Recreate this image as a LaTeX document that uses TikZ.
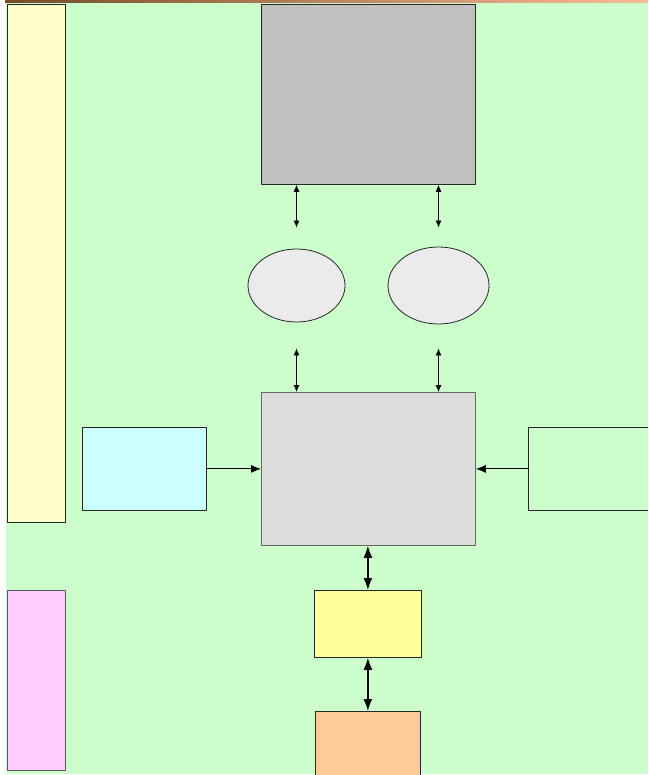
\documentclass[tikz,border=0pt]{standalone}
\usepackage{xcolor}
\usepackage{tikz}
\usetikzlibrary{shapes,arrows.meta}
\usetikzlibrary{calc}
\definecolor{bggreen}{HTML}{CCFFCC}
\definecolor{barYellow}{HTML}{FFFFCC}
\definecolor{barPink}{HTML}{FFCCFF}
\definecolor{storeGray}{HTML}{C0C0C0}
\definecolor{coreGray}{HTML}{DDDDDD}
\definecolor{cacheGray}{HTML}{EBEBEB}
\definecolor{inCyan}{HTML}{CCFFFF}
\definecolor{bufYellow}{HTML}{FFFF99}
\definecolor{diskOrange}{HTML}{FFCC99}
\tikzset{box/.style={rectangle,draw=black!85,line width=0.8pt,inner sep=0pt,anchor=north west},
	blob/.style={ellipse,draw=black!85,fill=cacheGray,line width=0.8pt,inner sep=0pt},
	thin arrow/.style={{Latex[length=7pt,width=6pt]}-{Latex[length=7pt,width=6pt]},line width=0.8pt},
	thick arrow/.style={{Latex[length=12pt,width=9pt]}-{Latex[length=12pt,width=9pt]},line width=1.4pt}}

\begin{document}
\begin{tikzpicture}[line cap=round,line join=round,x=1pt,y=-1pt]
		\useasboundingbox (0,0) rectangle (648,775);
		\clip (0,0) rectangle (648,775);
		\fill[white] (0,0) rectangle (648,775);
		\fill[bggreen] (6,0) rectangle (648,774);
		\shade[left color=brown!60!black, middle color=olive!60!black!80!white, right color=red!35!orange!40] (5,0) rectangle (648,3);
		% side bars
		\node[box,fill=barYellow,minimum width=58pt,minimum height=518pt] (sidebar) at (7,4) {};
		\node[box,fill=barPink,draw=black!65,minimum width=58pt,minimum height=180pt] (legend) at (7,590) {};
		% main blocks
		\node[box,fill=storeGray,minimum width=214pt,minimum height=180pt] (store) at (261,4) {};
		\node[blob,minimum width=97pt,minimum height=73pt] (cacheA) at (296.5,285.5) {};
		\node[blob,minimum width=101pt,minimum height=77pt] (cacheB) at (438.5,285.5) {};
		\node[box,fill=coreGray,draw=black!60,minimum width=214pt,minimum height=153pt] (core) at (261,392) {};
		\node[box,fill=inCyan,minimum width=124pt,minimum height=83pt] (input) at (82,427) {};
		\node[box,fill=bggreen,minimum width=140pt,minimum height=83pt] (output) at (528,427) {};
		\node[box,fill=bufYellow,minimum width=107pt,minimum height=67pt] (buffer) at (314,590) {};
		\node[box,fill=diskOrange,minimum width=105pt,minimum height=80pt] (disk) at (315,711) {};
		% connectors
		\draw[thin arrow] (store.south -| cacheA) -- ($(cacheA.north)+(0,-21)$);
		\draw[thin arrow] (store.south -| cacheB) -- ($(cacheB.north)+(0,-19)$);
		\draw[thin arrow] ($(cacheA.south)+(0,26)$) -- (core.north -| cacheA);
		\draw[thin arrow] ($(cacheB.south)+(0,24)$) -- (core.north -| cacheB);
		\draw[-{Latex[length=10pt,width=8pt]},line width=0.9pt] (input.east) -- (core.west |- input.east);
		\draw[-{Latex[length=10pt,width=8pt]},line width=0.9pt] (output.west) -- (core.east |- output.west);
		\draw[thick arrow] (core.south -| buffer) -- (buffer.north);
		\draw[thick arrow] (buffer.south) -- (disk.north);
		\end{tikzpicture}
\end{document}
